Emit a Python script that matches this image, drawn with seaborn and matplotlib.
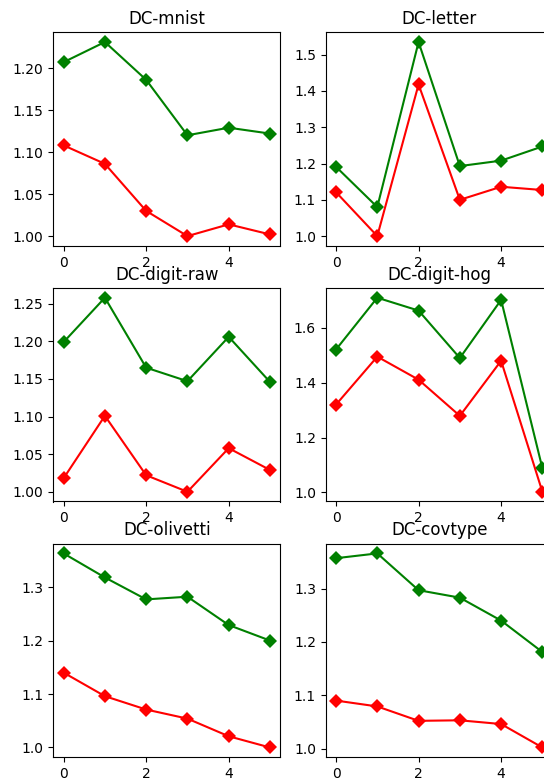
import matplotlib
matplotlib.use("Agg")
import matplotlib.pyplot as plt
import seaborn as sns
import pandas as pd
import numpy as np

steps = [0, 1, 2, 3, 4, 5]
titles = ["DC-mnist", "DC-letter", "DC-digit-raw", "DC-digit-hog", "DC-olivetti", "DC-covtype"]

mnist_green = [1.207, 1.231, 1.186, 1.120, 1.129, 1.122]
mnist_red = [1.108, 1.086, 1.030, 1.000, 1.014, 1.002]
letter_green = [1.191, 1.080, 1.535, 1.193, 1.208, 1.247]
letter_red = [1.121, 1.000, 1.418, 1.100, 1.136, 1.127]
digitraw_green = [1.199, 1.258, 1.165, 1.147, 1.206, 1.146]
digitraw_red = [1.018, 1.101, 1.022, 1.000, 1.058, 1.029]
digithog_green = [1.521, 1.710, 1.663, 1.490, 1.702, 1.088]
digithog_red = [1.320, 1.495, 1.411, 1.279, 1.480, 1.002]
olivetti_green = [1.363, 1.318, 1.277, 1.282, 1.229, 1.200]
olivetti_red = [1.140, 1.096, 1.071, 1.054, 1.021, 1.000]
covtype_green = [1.357, 1.366, 1.297, 1.283, 1.240, 1.181]
covtype_red = [1.090, 1.079, 1.052, 1.053, 1.046, 1.002]

greens = [mnist_green, letter_green, digitraw_green, digithog_green, olivetti_green, covtype_green]
reds = [mnist_red, letter_red, digitraw_red, digithog_red, olivetti_red, covtype_red]

fig = plt.figure(figsize=(5.44, 7.78), dpi=100)

W = 227 / 544
H = 213.5 / 778
lefts = [53.3 / 544, 325.7 / 544]
tops = [32.3, 288.0, 543.7]

for i, title in enumerate(titles):
    r, c = divmod(i, 2)
    bottom = 1 - (tops[r] + 213.5) / 778
    ax = fig.add_axes([lefts[c], bottom, W, H])
    df = pd.DataFrame({"x": steps * 2,
                       "y": greens[i] + reds[i],
                       "s": ["g"] * 6 + ["r"] * 6})
    sns.lineplot(data=df, x="x", y="y", hue="s", palette={"g": "green", "r": "red"},
                 marker="D", markersize=7, markeredgewidth=0, legend=False, ax=ax,
                 linewidth=1.5)
    ax.set_title(title, fontsize=12)
    ax.set_xlabel("")
    ax.set_ylabel("")
    ax.set_xticks([0, 2, 4])

fig.savefig("out.png", dpi=100)
